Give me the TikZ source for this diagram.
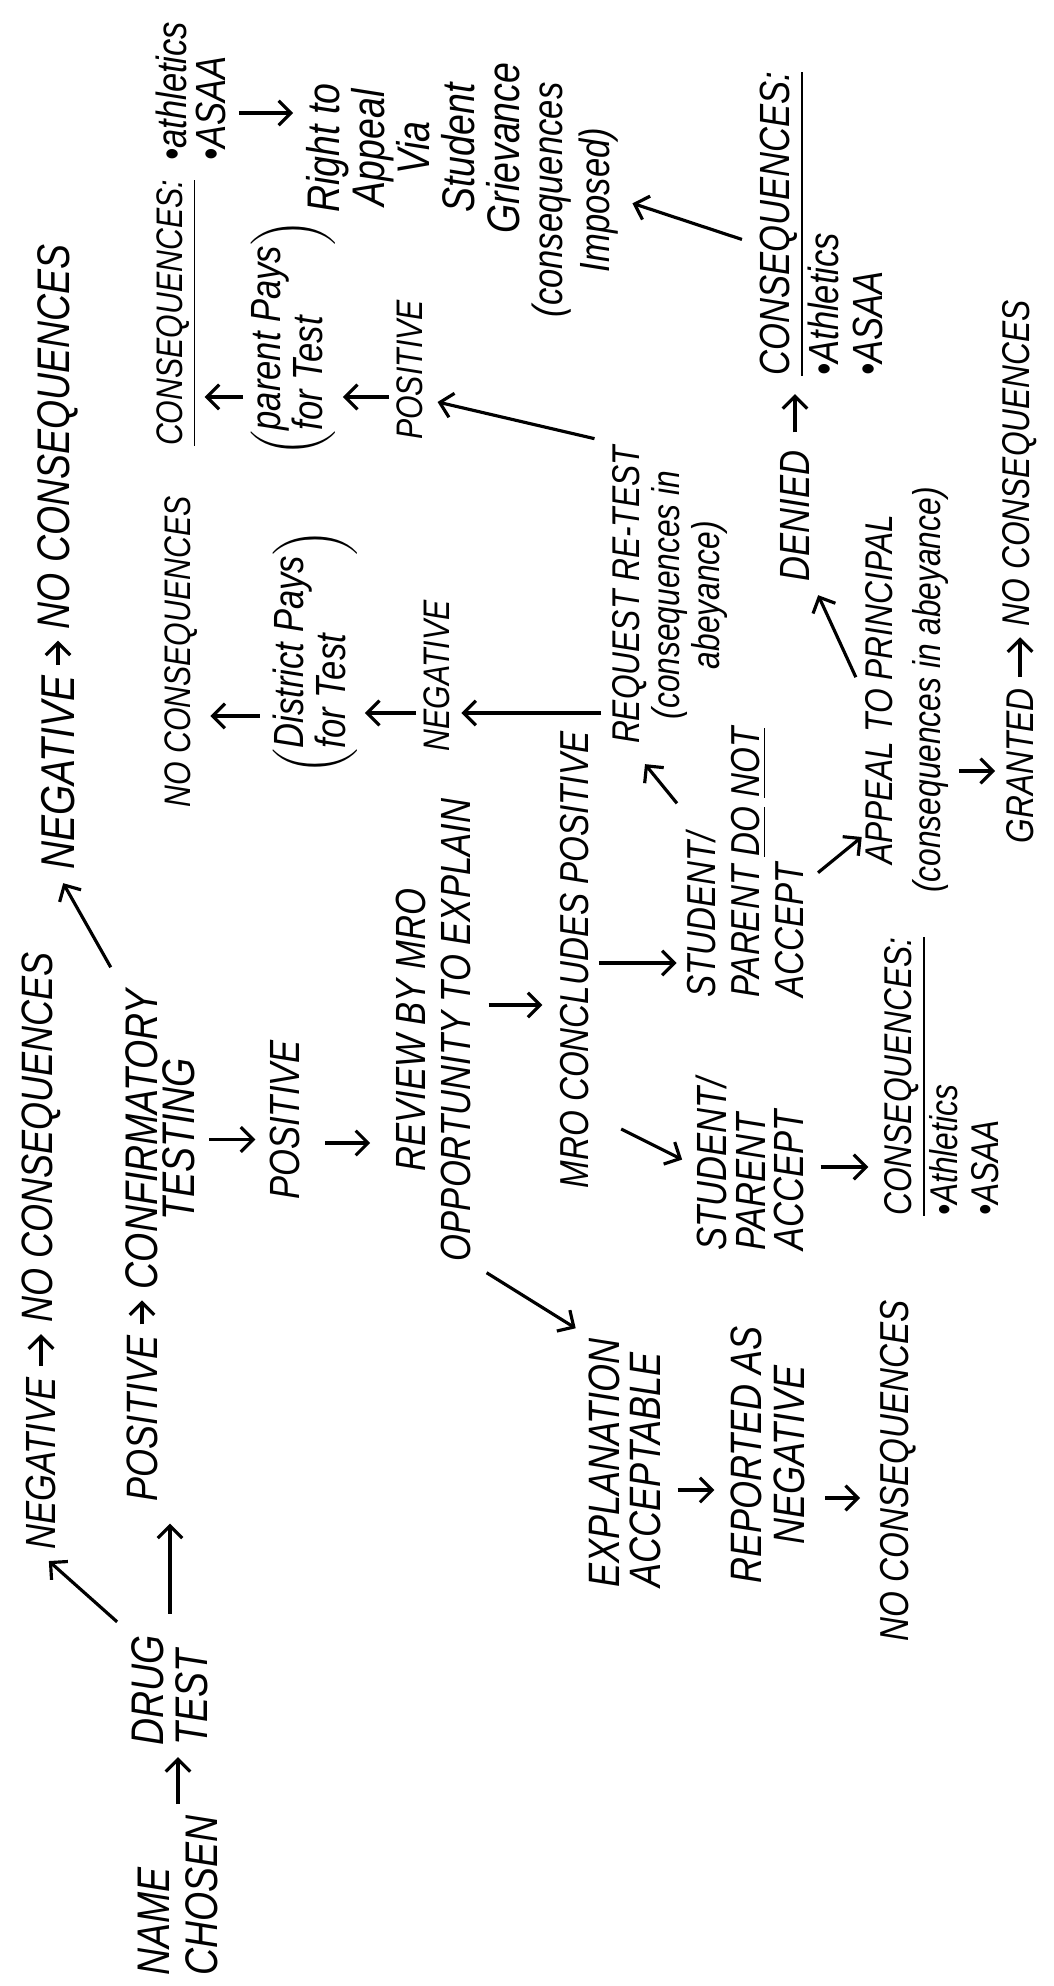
\documentclass[tikz,border=0pt]{standalone}
\usepackage{fontspec}
\setmainfont{Liberation Sans}[FakeStretch=0.82]
\usetikzlibrary{arrows.meta,calc}
\newcommand{\hf}[2]{\itshape\fontsize{#1}{#2}\selectfont}
\tikzset{
  hand/.style={rotate=90, inner sep=1pt, font={\hf{12}{12.5}}},
  flow/.style={-{Straight Barb[length=3.5pt,width=7pt]}, line width=0.9pt},
  slant/.style={flow, shorten <=4pt, shorten >=3pt},
  inline/.style={flow, shorten <=2pt, shorten >=2pt},
}
\begin{document}
\begin{tikzpicture}[x=0.01cm, y=-0.01cm]
\useasboundingbox (0,0) rectangle (1053,1986);

% first test
\node[hand, font={\hf{13}{13.7}}, align=left, anchor=west] (name) at (178,1980) {NAME\\CHOSEN};
\node[hand, font={\hf{13}{12.5}}, align=left, anchor=west] (drug) at (170,1750) {DRUG\\TEST};
\node[hand, font={\hf{12}{13}}, anchor=west] (neg1) at (41,1554) {NEGATIVE};
\node[hand, font={\hf{12.5}{13}}, anchor=west] (nocons1) at ($(neg1.east)+(0,-46)$) {NO CONSEQUENCES};
\node[hand, font={\hf{12.5}{13}}, anchor=west] (pos1) at (142,1506) {POSITIVE};
\node[hand, font={\hf{13}{10.5}}, align=center, anchor=west] (conf) at ($(pos1.east)+(18,-38)$) {CONFIRMATORY\\TESTING};
\node[hand, font={\hf{13.5}{14}}, anchor=west] (neg2) at (58,874) {NEGATIVE};
\node[hand, font={\hf{13}{14}}, anchor=west] (nocons2) at ($(neg2.east)+(0,-38)$) {NO CONSEQUENCES};

% MRO review
\node[hand] (pos2) at (285,1120) {POSITIVE};
\node[hand, font={\hf{12}{12.8}}, align=center] (review) at (433,1030) {REVIEW BY MRO\\OPPORTUNITY TO EXPLAIN};
\node[hand, font={\hf{12.5}{11.7}}, align=left, anchor=west] (expl) at (625,1592) {EXPLANATION\\ACCEPTABLE};
\node[hand, font={\hf{12.5}{12.2}}, align=center] (rep) at (768,1455) {REPORTED AS\\NEGATIVE};
\node[hand, font={\hf{11.5}{12}}] (nocons3) at (898,1471) {NO CONSEQUENCES};
\node[hand, font={\hf{11.5}{12}}] (mro) at (575,960) {MRO CONCLUDES POSITIVE};
\node[hand, font={\hf{12}{11}}, align=left, anchor=west] (acc) at (750,1255) {STUDENT/\\PARENT\\ACCEPT};
\node[hand, font={\hf{11}{11.7}}, align=left, anchor=west] (cons1) at (942,1220) {\underline{CONSEQUENCES:}\\•Athletics\\•ASAA};
\node[hand, font={\hf{11.5}{12.5}}, align=left, anchor=west] (notacc) at (745,1002) {STUDENT/\\PARENT \underline{DO} \underline{NOT}\\ACCEPT};

% re-test
\node[hand, font={\hf{11}{11.4}}, align=center] (req) at (670,595) {REQUEST RE-TEST\\(consequences in\\abeyance)};
\node[hand, font={\hf{10.5}{11}}] (negm) at (437,676) {NEGATIVE};
\node[hand, font={\hf{12}{10.8}}] (dist) at (315,652) {$\left(\mbox{\begin{tabular}{@{}l@{}}District Pays\\for Test\end{tabular}}\right)$};
\node[hand, font={\hf{10.5}{11}}] (noconsm) at (181,652) {NO CONSEQUENCES};
\node[hand, font={\hf{10.5}{11}}] (posu) at (410,370) {POSITIVE};
\node[hand, font={\hf{12}{11.4}}] (ppays) at (293,338) {$\left(\mbox{\begin{tabular}{@{}l@{}}parent Pays\\for Test\end{tabular}}\right)$};
\node[hand, font={\hf{10.5}{11}}] (consu) at (177,313) {\underline{CONSEQUENCES:}};
\node[hand, font={\hf{12}{11}}, align=left, anchor=west] (consulist) at (191,165) {•athletics\\•ASAA};
\node[hand, font={\hf{13}{12.8}}, align=center] (right) at (413,148) {Right to\\Appeal\\Via\\Student\\Grievance};
\node[hand, font={\hf{12}{13.4}}, align=center] (impo) at (575,200) {(consequences\\Imposed)};

% appeal
\node[hand, font={\hf{12}{12.5}}, align=left, anchor=west] (consr) at (821,380) {\underline{CONSEQUENCES:}\\•Athletics\\•ASAA};
\node[hand] (denied) at (795,516) {DENIED};
\node[hand, font={\hf{11}{13.4}}, align=center] (appeal) at (907,690) {APPEAL TO PRINCIPAL\\(consequences in abeyance)};
\node[hand, font={\hf{11}{12}}] (granted) at (1020,766) {GRANTED};
\node[hand, font={\hf{11}{12}}, anchor=west] (nocons4) at ($(granted.east)+(0,-54)$) {NO CONSEQUENCES};

% arrows
\draw[inline] (name.east) -- (name.east |- drug.west);
\draw[flow, shorten <=5pt, shorten >=5pt] (drug.east) -- (drug.east |- pos1.west);
\draw[slant] (drug.north east) -- (neg1.west);
\draw[inline] (neg1) -- (nocons1);
\draw[inline] (pos1.east) -- (pos1.east |- conf.west);
\draw[slant, shorten <=6pt] (conf.north east) -- (neg2.west);
\draw[inline] (neg2) -- (nocons2);
\draw[flow, shorten <=3pt, shorten >=3pt] (conf.south) -- (conf.south -| pos2.north);
\draw[flow, shorten <=6pt, shorten >=6pt] (pos2.south |- 0,1143) -- (review.north |- 0,1143);
\draw[slant] (review.south west) -- (expl.north east);
\draw[flow, shorten <=4pt, shorten >=4pt] (review.south |- 0,1005) -- (mro.north |- 0,1005);
\draw[flow, shorten <=3.5pt, shorten >=3.5pt] (expl.south |- 0,1490) -- (rep.north |- 0,1490);
\draw[flow, shorten <=4.5pt, shorten >=4.5pt] (rep.south |- 0,1498) -- (nocons3.north |- 0,1498);
\draw[slant] ($(mro.south west)+(15,-70)$) -- (acc.north);
\draw[flow, shorten <=3.5pt, shorten >=3.5pt] (acc.south |- 0,1167) -- (cons1.north |- 0,1167);
\draw[flow, shorten <=1.5pt, shorten >=1.5pt] (mro.south |- 0,963) -- (notacc.north |- 0,963);
\draw[flow] ($(notacc.north east)+(-5,80)$) -- ($(req.west)+(-25,16)$);
\draw[flow] ($(notacc.south)+(10,10)$) -- ($(appeal.north west)+(0,-60)$);
\draw[flow, shorten <=2pt, shorten >=2pt] (req.north |- 0,713) -- (negm.south |- 0,713);
\draw[flow, shorten <=1pt, shorten >=1pt] (negm.north |- 0,713) -- (dist.south |- 0,713);
\draw[flow, shorten <=2.5pt, shorten >=2.5pt] (dist.north |- 0,716) -- (noconsm.south |- 0,716);
\draw[slant] (req.north east) -- ($(posu.south west)!0.3!(posu.south east)$);
\draw[flow, shorten <=1pt, shorten >=1pt] (posu.north |- 0,397) -- (ppays.south |- 0,397);
\draw[flow, shorten <=1pt, shorten >=1pt] (ppays.north |- 0,397) -- (consu.south |- 0,397);
\draw[flow, shorten <=2.5pt, shorten >=2.5pt] (consulist.south |- 0,113) -- (right.north |- 0,113);
\draw[slant] ($(consr.north)+(0,20)$) -- (impo.south);
\draw[flow, shorten <=4pt, shorten >=4pt] (denied.east) -- (denied.east |- consr.west);
\draw[slant] (appeal.north) -- (denied.south west);
\draw[flow, shorten <=2pt, shorten >=2pt] (appeal.south |- 0,771) -- (granted.north |- 0,771);
\draw[inline] (granted) -- (nocons4);
\end{tikzpicture}
\end{document}
